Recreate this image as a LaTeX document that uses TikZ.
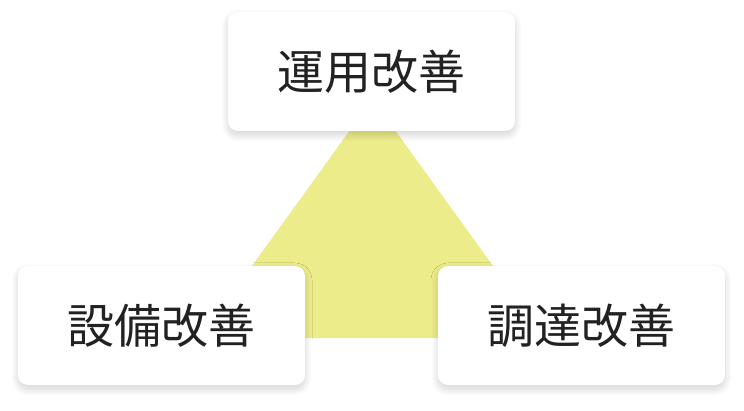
\documentclass[tikz,border=0pt]{standalone}
\usepackage{fontspec}
\setmainfont{Noto Sans CJK JP}
\usepackage{tikz}
\usetikzlibrary{positioning,shadows.blur}
\definecolor{triyellow}{HTML}{EDEC8A}
\definecolor{textgray}{HTML}{222222}

\begin{document}
\begin{tikzpicture}[x=1pt,y=1pt,every node/.style={fill=white,rounded corners=10pt,align=center,minimum width=287pt,minimum height=119pt,inner sep=0pt,text=textgray,font=\fontsize{47}{50}\selectfont,blur shadow={shadow xshift=0pt,shadow yshift=-4pt,shadow blur radius=7pt,shadow blur steps=20,shadow opacity=18}}]
      \useasboundingbox (0,0) rectangle (744,410);
      \coordinate (apex) at (372.5,311);
      \coordinate (bl) at (200,72);
      \coordinate (br) at (545,72);
      \fill[triyellow] (apex)--(bl)--(br)--cycle;
      \node (ops) at (371.5,338.5) {運用改善};
      \node (equip) at (161.5,84.5) {設備改善};
      \node (proc) at (581.5,84.5) {調達改善};
    \end{tikzpicture}
\end{document}
